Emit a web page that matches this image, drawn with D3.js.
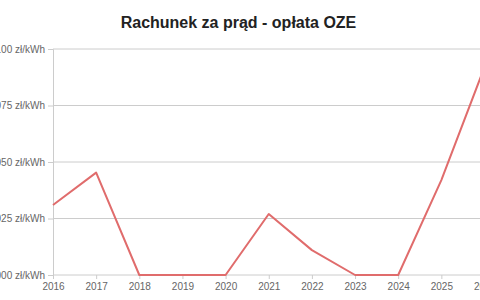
<!DOCTYPE html>
<html><head><meta charset="utf-8">
<script src="https://cdn.jsdelivr.net/npm/d3@7"></script>
<style>body{margin:0;overflow:hidden;background:#fff}svg{display:block}</style>
</head><body>
<script>
const years = [2016,2017,2018,2019,2020,2021,2022,2023,2024,2025,2026];
const values = [0.0031,0.00453,0,0,0,0.0027,0.0011,0,0,0.0042,0.0092];
const yTicks = [0,0.0025,0.005,0.0075,0.01];
const title = "Rachunek za prąd - opłata OZE";

const W = 480, H = 300;
const svg = d3.select("body").append("svg").attr("width",W).attr("height",H);
const x = d3.scaleLinear().domain([2016,2026]).range([53,484.5]);
const y = d3.scaleLinear().domain([0,0.01]).range([275,49]);
const fmt = v => d3.format(".4f")(v).replace(".",",") + " zł/kWh";
const FF = "Liberation Sans, Arial, sans-serif";

svg.append("text").attr("x",238.5).attr("y",28).attr("text-anchor","middle")
  .attr("font-family",FF).attr("font-weight","bold")
  .attr("font-size",16).attr("fill","#222").text(title);

const yAxis = svg.append("g").attr("transform","translate(53,0)")
  .call(d3.axisLeft(y).tickValues(yTicks).tickFormat(fmt).tickSize(5).tickPadding(3));
yAxis.select(".domain").attr("stroke","#ccc");
yAxis.selectAll(".tick line").attr("stroke","#ccc");
yAxis.selectAll(".tick text").attr("fill","#666").attr("font-size",10)
  .attr("font-family",FF);

svg.append("g").selectAll("line").data(yTicks).join("line")
  .attr("x1",53).attr("x2",W+20).attr("y1",d=>y(d)).attr("y2",d=>y(d))
  .attr("stroke","#ccc").attr("stroke-width",1);

const xAxis = svg.append("g").attr("transform","translate(0,275)")
  .call(d3.axisBottom(x).tickValues(years).tickFormat(d3.format("d")).tickSize(4).tickPadding(4));
xAxis.select(".domain").remove();
xAxis.selectAll(".tick line").attr("stroke","#ccc");
xAxis.selectAll(".tick text").attr("fill","#666").attr("font-size",10)
  .attr("font-family",FF);

svg.append("path").datum(years.map((yr,i)=>[yr,values[i]]))
  .attr("fill","none").attr("stroke","#e06c6c").attr("stroke-width",2)
  .attr("stroke-linejoin","round")
  .attr("d",d3.line().x(d=>x(d[0])).y(d=>y(d[1])));
</script>
</body></html>
